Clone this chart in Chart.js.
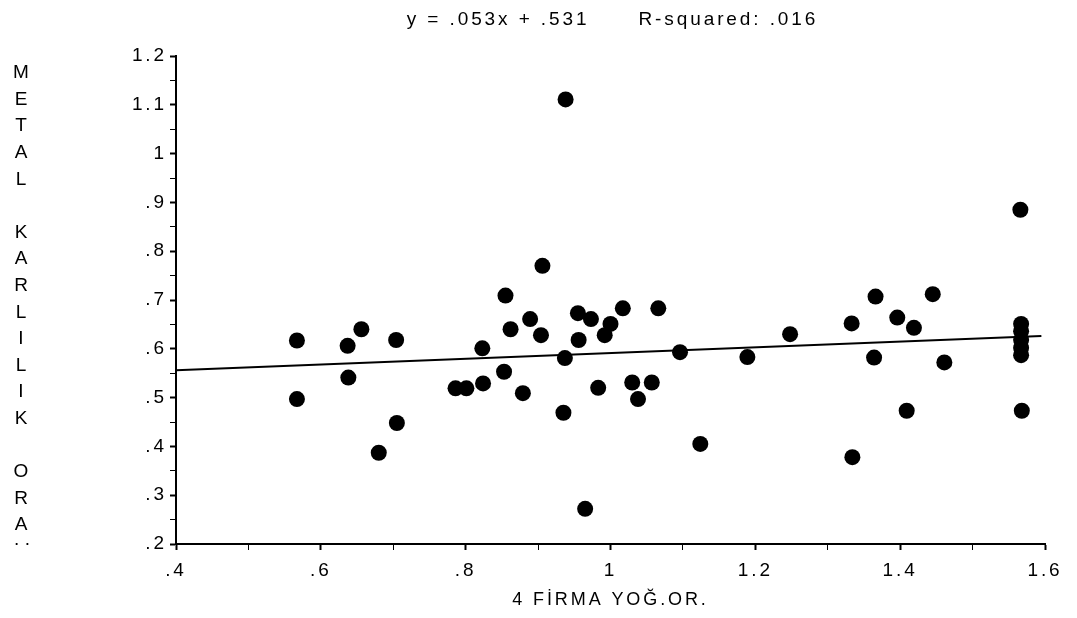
<!DOCTYPE html>
<html>
<head>
<meta charset="utf-8">
<script src="https://cdn.jsdelivr.net/npm/chart.js@4.4.1/dist/chart.umd.min.js"></script>
<style>
  body { margin: 0; background: #fff; }
</style>
</head>
<body>
<canvas id="myChart" width="1077" height="618"></canvas>
<script>
// datos
const xValues = [0.567, 0.567, 0.637, 0.638, 0.656, 0.680, 0.704, 0.705, 0.786, 0.801,
                 0.823, 0.824, 0.853, 0.855, 0.862, 0.879, 0.889, 0.904, 0.906, 0.938,
                 0.935, 0.937, 0.955, 0.956, 0.965, 0.973, 0.983, 0.992, 1.000, 1.017,
                 1.030, 1.038, 1.057, 1.066, 1.096, 1.124, 1.189, 1.248, 1.333, 1.334,
                 1.364, 1.366, 1.396, 1.409, 1.419, 1.445, 1.461, 1.566, 1.567, 1.567,
                 1.567, 1.567, 1.567, 1.568];
const yValues = [0.617, 0.497, 0.606, 0.541, 0.640, 0.387, 0.618, 0.448, 0.519, 0.519,
                 0.601, 0.529, 0.553, 0.709, 0.640, 0.509, 0.661, 0.628, 0.770, 1.111,
                 0.469, 0.581, 0.673, 0.618, 0.272, 0.661, 0.520, 0.628, 0.651, 0.683,
                 0.531, 0.497, 0.531, 0.683, 0.593, 0.405, 0.583, 0.630, 0.652, 0.378,
                 0.582, 0.707, 0.664, 0.473, 0.643, 0.712, 0.572, 0.885, 0.651, 0.636,
                 0.618, 0.602, 0.587, 0.473];

// recta de regresion (extremos)
const trendX = [0.4, 1.595];
const trendY = [0.556, 0.626];

const xTickLabels = ['.4', '.6', '.8', '1', '1.2', '1.4', '1.6'];
const yTickLabels = ['.2', '.3', '.4', '.5', '.6', '.7', '.8', '.9', '1', '1.1', '1.2'];

const chartTitle = 'y = .053x + .531      R-squared: .016';
const xTitle = '4 FİRMA YOĞ.OR.';
const yTitle = 'METAL KARLILIK ORA';

const FONT = '"Liberation Sans", Arial, sans-serif';
const SPACING = '2.9px';
Chart.defaults.font.family = FONT;
Chart.defaults.color = '#000';

const points = xValues.map((x, i) => ({ x: x, y: yValues[i] }));
const trend = trendX.map((x, i) => ({ x: x, y: trendY[i] }));

// espaciado entre letras como en el original
const spacingPlugin = {
  id: 'spacing',
  beforeUpdate(chart) { chart.ctx.letterSpacing = SPACING; },
  beforeDraw(chart) {
    const ctx = chart.ctx;
    ctx.letterSpacing = SPACING;
    ctx.save();
    ctx.fillStyle = '#fff';
    ctx.fillRect(0, 0, chart.width, chart.height);
    ctx.restore();
  }
};

// titulos: arriba centrado sobre el area del grafico, y vertical letra por letra
const titlesPlugin = {
  id: 'titles',
  afterDraw(chart) {
    const ctx = chart.ctx;
    const area = chart.chartArea;
    ctx.save();
    ctx.fillStyle = '#000';
    ctx.textAlign = 'center';
    ctx.textBaseline = 'middle';
    ctx.font = '19px ' + FONT;
    ctx.letterSpacing = SPACING;
    ctx.fillText(chartTitle, (area.left + area.right) / 2 + 2, 20);

    ctx.letterSpacing = '0px';
    ctx.font = '19px ' + FONT;
    for (let i = 0; i < yTitle.length; i++) {
      ctx.fillText(yTitle[i], 21, 73 + i * 26.6);
    }
    ctx.fillText('. .', 22, 73 + yTitle.length * 26.6 - 12);
    ctx.restore();
  }
};

const ctx = document.getElementById('myChart');
new Chart(ctx, {
  type: 'scatter',
  data: {
    datasets: [{
      label: 'puntos',
      data: points,
      backgroundColor: '#000',
      borderWidth: 0,
      pointRadius: 8,
      order: 1
    }, {
      label: 'regresion',
      data: trend,
      showLine: true,
      borderColor: '#000',
      borderWidth: 2,
      pointRadius: 0,
      order: 2
    }]
  },
  options: {
    responsive: false,
    animation: false,
    layout: { padding: { left: 0, right: 32, top: 56, bottom: 0 } },
    plugins: {
      legend: { display: false },
      tooltip: { enabled: false },
      title: { display: false }
    },
    scales: {
      x: {
        type: 'linear',
        min: 0.4,
        max: 1.6,
        afterFit: function(scale) { scale.height = 74; },
        border: { display: true, color: '#000', width: 2 },
        grid: {
          display: true,
          drawOnChartArea: false,
          tickLength: 6,
          tickColor: '#000',
          tickWidth: c => (Math.round((c.tick.value - 0.4) / 0.1) % 2 === 0 ? 2 : 1)
        },
        ticks: {
          stepSize: 0.1,
          padding: 9,
          maxRotation: 0,
          autoSkip: false,
          font: { size: 19 },
          callback: function(value) {
            const i = Math.round((value - 0.4) / 0.1);
            return i % 2 === 0 ? xTickLabels[i / 2] : '';
          }
        },
        title: {
          display: true,
          text: xTitle,
          font: { size: 18 },
          padding: { top: 7, bottom: 7 }
        }
      },
      y: {
        type: 'linear',
        min: 0.2,
        max: 1.2,
        afterFit: function(scale) { scale.width = 176; },
        border: { display: true, color: '#000', width: 2 },
        grid: {
          display: true,
          drawOnChartArea: false,
          tickLength: 6,
          tickColor: '#000',
          tickWidth: c => (Math.round((c.tick.value - 0.2) / 0.05) % 2 === 0 ? 2 : 1)
        },
        ticks: {
          stepSize: 0.05,
          padding: 3,
          autoSkip: false,
          font: { size: 19 },
          callback: function(value) {
            const i = Math.round((value - 0.2) / 0.05);
            return i % 2 === 0 ? yTickLabels[i / 2] : '';
          }
        }
      }
    }
  },
  plugins: [spacingPlugin, titlesPlugin]
});
</script>
</body>
</html>
